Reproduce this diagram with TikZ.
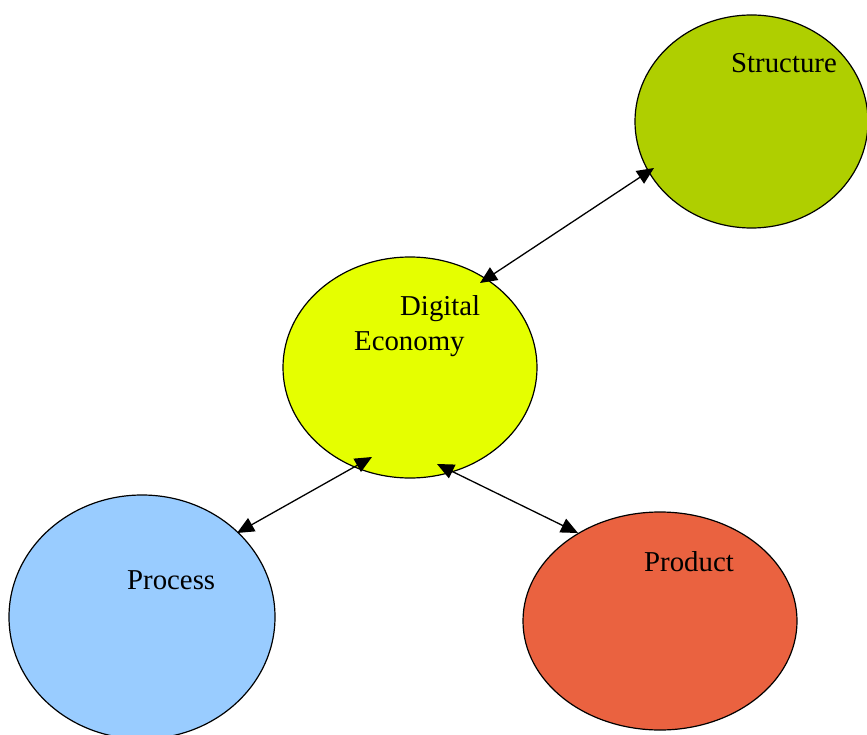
\documentclass[tikz,border=0pt]{standalone}
\usepackage{fontspec}
\setmainfont{Liberation Serif}
\usetikzlibrary{shapes.geometric,arrows.meta,calc}
\definecolor{cstruct}{RGB}{175,207,0}
\definecolor{cde}{RGB}{229,255,0}
\definecolor{cproc}{RGB}{153,204,255}
\definecolor{cprod}{RGB}{234,98,64}
\tikzset{
  blob/.style={ellipse, draw=black, line width=1.2pt, inner sep=0pt, outer sep=0pt},
  lbl/.style={anchor=base west, inner sep=0pt, font=\fontsize{28.8}{35}\selectfont},
  link/.style={line width=1.3pt, {Triangle[length=17pt,width=15pt]}-{Triangle[length=17pt,width=15pt]}}
}
\begin{document}
\begin{tikzpicture}[x=1pt,y=-1pt]
\useasboundingbox (0,0) rectangle (867,735);
\begin{scope}
\clip (0,0) rectangle (867,735);
\node[blob, fill=cstruct, minimum width=233pt, minimum height=213pt] (s) at (751.5,121.5) {};
\node[blob, fill=cde, minimum width=254pt, minimum height=221pt] (de) at (410,367.5) {};
\node[blob, fill=cproc, minimum width=266pt, minimum height=244pt] (pc) at (142,617) {};
\node[blob, fill=cprod, minimum width=274pt, minimum height=218pt] (pd) at (660,621) {};
\end{scope}
\node[lbl] (ts) at (731,73) {Structure};
\node[lbl] (td) at (400,315) {Digital};
\node[lbl] (te) at (354,350) {Economy};
\node[lbl] (tpc) at (127,589) {Process};
\node[lbl] (tpd) at (644,571) {Product};
\draw[link] ($(de)+(70,-84.5)$) -- ($(s)+(-97.5,46.5)$);
\draw[link] ($(pc)+(95,-84)$) -- ($(de)+(-38,89.5)$);
\draw[link] ($(de)+(27,96.5)$) -- ($(pd)+(-82,-88)$);
\end{tikzpicture}
\end{document}
